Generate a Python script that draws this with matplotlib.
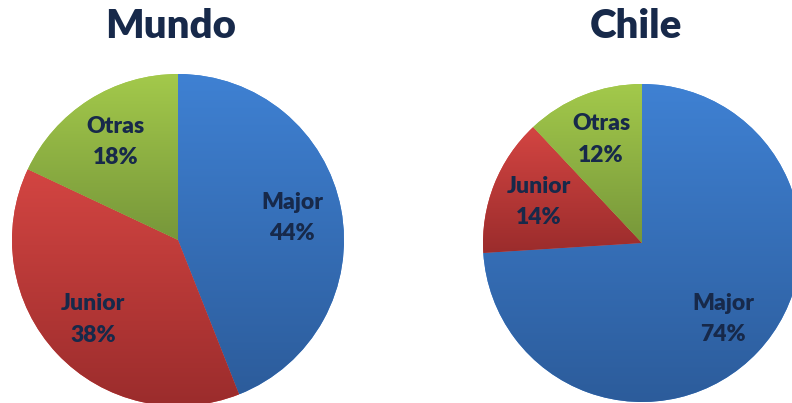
import numpy as np
import matplotlib.pyplot as plt
from matplotlib.colors import to_rgb

plt.rcParams['font.family'] = ['Lato', 'DejaVu Sans']

labels = ['Major', 'Junior', 'Otras']
mundo = [44, 38, 18]
chile = [74, 14, 12]

# top / bottom colours of each slice gradient
tops = ['#3f81d3', '#d34542', '#a3c94b']
bottoms = ['#2c5c9b', '#9b2c2c', '#77973a']
txt_color = '#17294a'

W, H = 792, 403
fig = plt.figure(figsize=(W / 100, H / 100), dpi=100)
ax = fig.add_axes([0, 0, 1, 1])


def gradient_pie(values, center, radius):
    it = iter(labels)
    wedges, _, autotexts = ax.pie(
        values, center=center, radius=radius, startangle=90,
        counterclock=False, colors=tops, pctdistance=0.7,
        autopct=lambda p: '%s\n%d%%' % (next(it), round(p)),
        wedgeprops=dict(edgecolor='none'),
        textprops=dict(fontsize=16.5, fontweight='heavy', color=txt_color,
                       linespacing=1.6))
    for w, c1, c2 in zip(wedges, tops, bottoms):
        bb = w.get_path().get_extents()
        t = np.linspace(0, 1, 256)[:, None, None]
        grad = (1 - t) * np.array(to_rgb(c1)) + t * np.array(to_rgb(c2))
        im = ax.imshow(grad, extent=(bb.x0, bb.x1, bb.y0, bb.y1),
                       origin='upper', aspect='auto', zorder=2,
                       interpolation='bilinear')
        im.set_clip_path(w)
    for t in autotexts:
        t.set_zorder(5)


gradient_pie(mundo, (178, H - 240), 166)
gradient_pie(chile, (642, H - 243), 159)

ax.text(171, H - 27, 'Mundo', ha='center', va='center', fontsize=29,
        fontweight='heavy', color=txt_color)
ax.text(636, H - 27, 'Chile', ha='center', va='center', fontsize=29,
        fontweight='heavy', color=txt_color)

ax.set_xlim(0, W)
ax.set_ylim(0, H)
ax.set_aspect('equal')
ax.axis('off')

fig.savefig('out.png', dpi=100)
